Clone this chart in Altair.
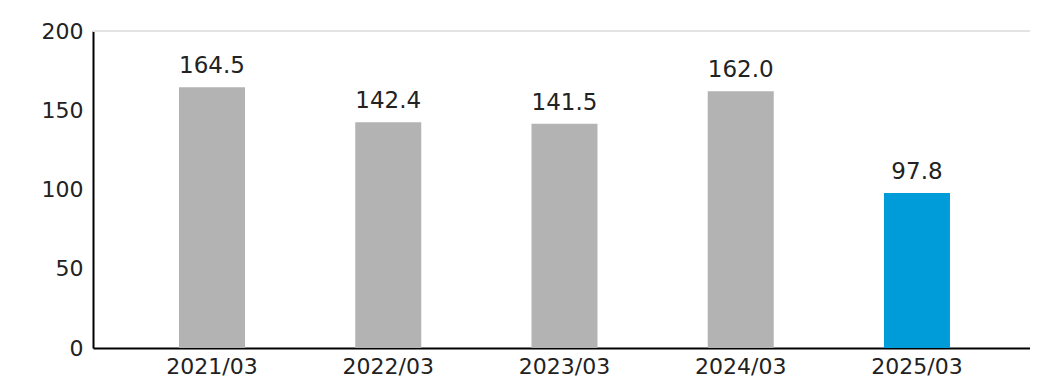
import altair as alt
import pandas as pd

categories = ["2021/03", "2022/03", "2023/03", "2024/03", "2025/03"]
values = [164.5, 142.4, 141.5, 162.0, 97.8]
labels = ["164.5", "142.4", "141.5", "162.0", "97.8"]
colors = ["#b3b3b3", "#b3b3b3", "#b3b3b3", "#b3b3b3", "#009bd9"]

df = pd.DataFrame({"cat": categories, "val": values, "lab": labels, "col": colors})

FONT = "DejaVu Sans"

x = alt.X("cat:N", sort=categories, title=None,
          scale=alt.Scale(paddingInner=0.6255, paddingOuter=0.471, align=0.518),
          axis=alt.Axis(labelAngle=0, ticks=False, domainColor="#000000", domainWidth=2,
                        labelFontSize=22, labelFont=FONT, labelColor="#222222", labelPadding=8))
y = alt.Y("val:Q", title=None,
          scale=alt.Scale(domain=[0, 200]),
          axis=alt.Axis(values=[0, 50, 100, 150, 200], grid=False, ticks=False,
                        domainColor="#000000", domainWidth=2,
                        labelFontSize=22, labelFont=FONT, labelColor="#222222", labelPadding=10))

base = alt.Chart(df)
bars = base.mark_bar().encode(x=x, y=y, color=alt.Color("col:N", scale=None))
text = base.mark_text(dy=-9, baseline="bottom", fontSize=23, font=FONT, color="#222222").encode(
    x=alt.X("cat:N", sort=categories), y="val:Q", text="lab:N")
top = alt.Chart(pd.DataFrame({"v": [200]})).mark_rule(color="#e3e3e3", strokeWidth=2).encode(y="v:Q")

chart = alt.layer(top, bars, text).properties(
    width=937, height=317,
    autosize=alt.AutoSizeParams(type="none"),
    padding={"left": 85, "top": 23, "right": 0, "bottom": 30},
).configure_view(stroke=None)

chart.save("out.html", embed_options={"renderer": "svg", "actions": False})
